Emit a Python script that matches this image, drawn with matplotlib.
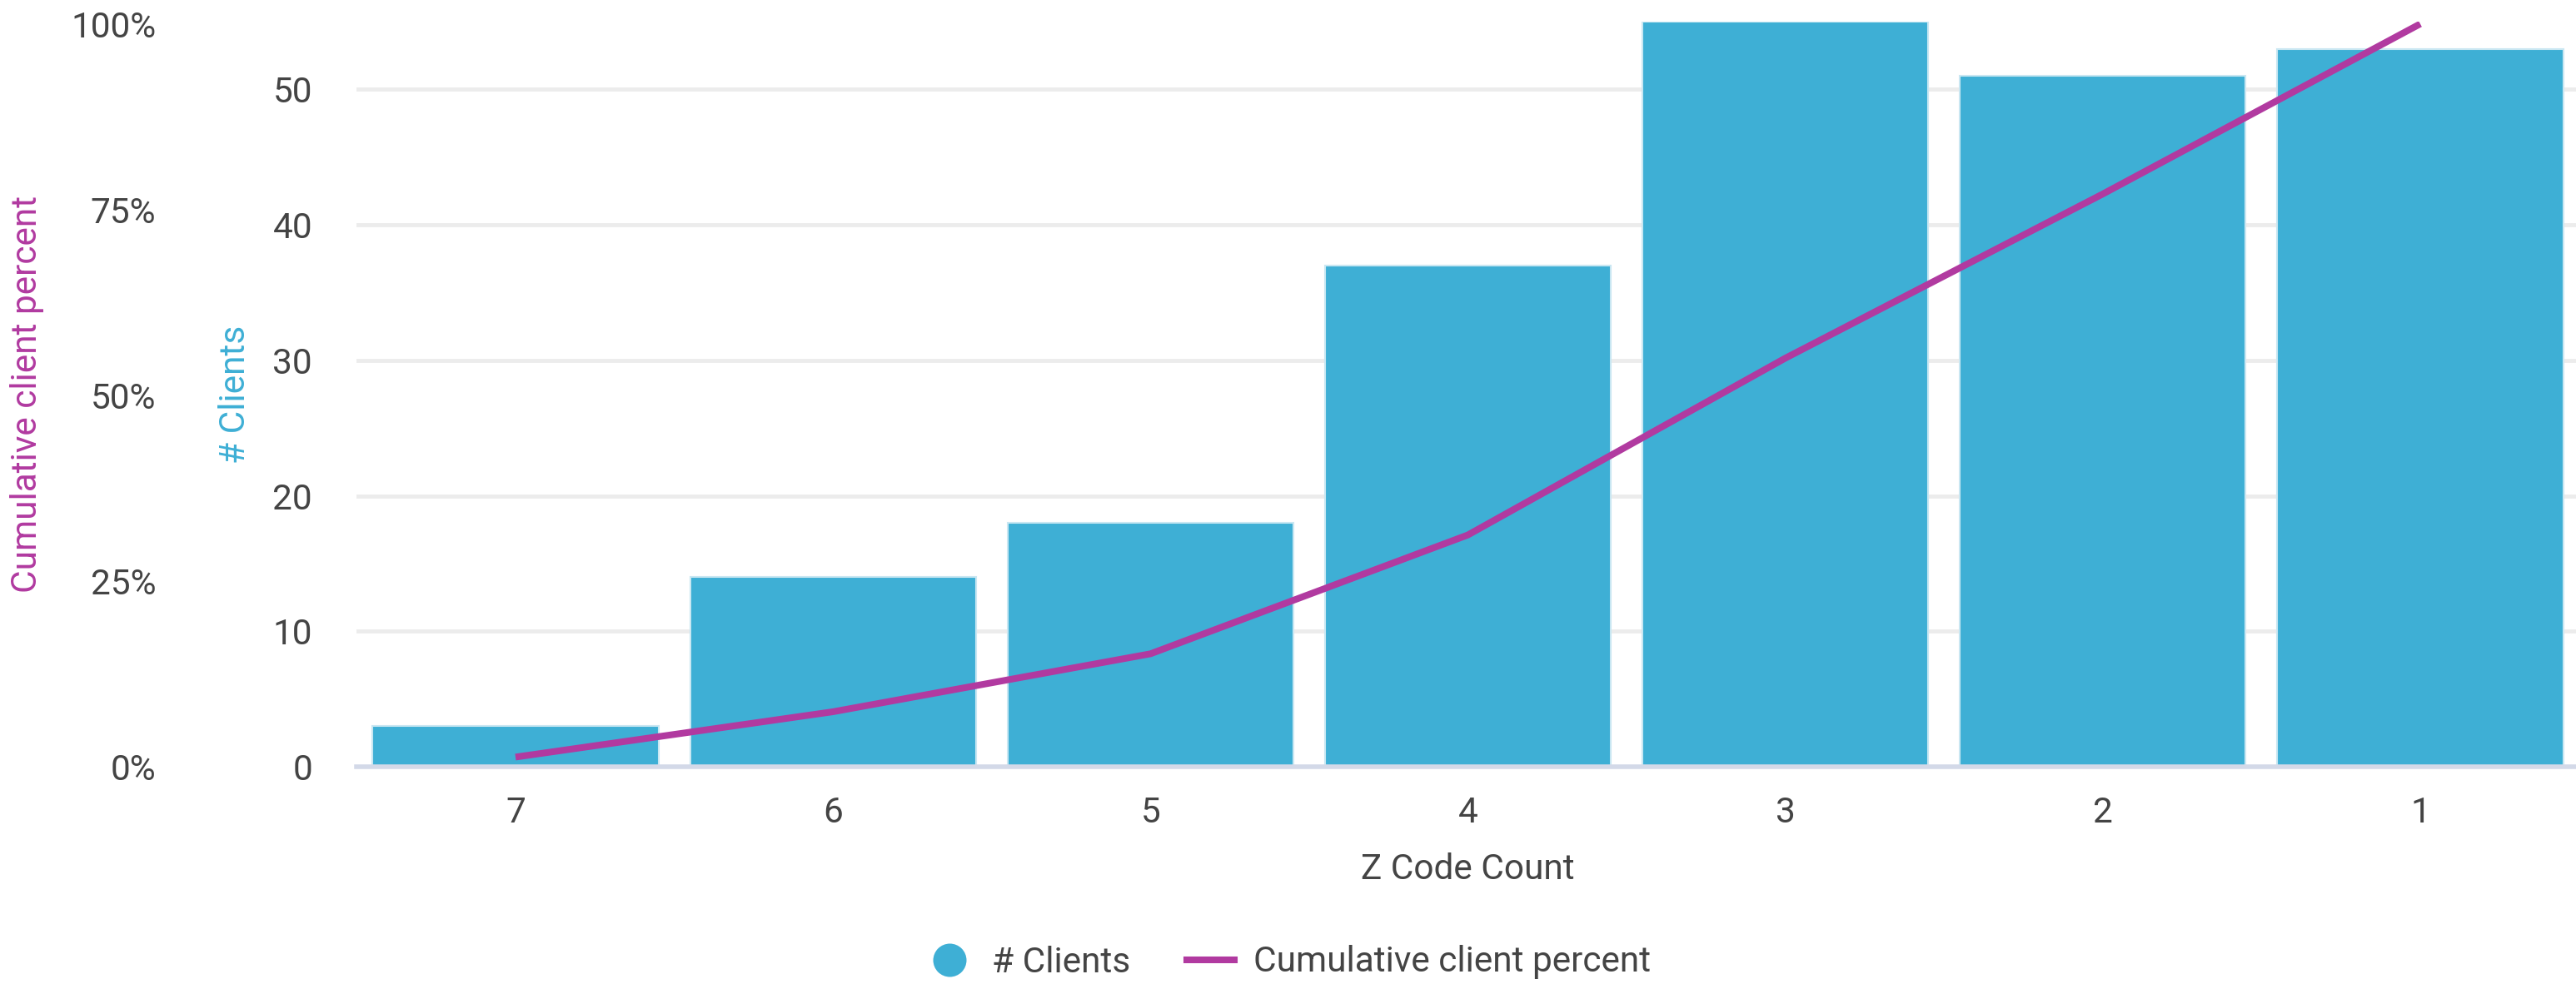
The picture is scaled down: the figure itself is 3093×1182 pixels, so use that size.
import matplotlib
matplotlib.use("Agg")
import matplotlib.pyplot as plt
from matplotlib.lines import Line2D
from matplotlib.ticker import FuncFormatter

plt.rcParams['font.family'] = ['Roboto', 'DejaVu Sans']

# --- datos ---
z_codes = ['7', '6', '5', '4', '3', '2', '1']
clients = [3, 14, 18, 37, 55, 51, 53]
cum_pct = [1.3, 7.4, 15.2, 31.2, 55.0, 77.1, 100.0]

BAR = '#3eafd5'
LINE = '#b13aa0'
TXT = '#444444'
FS = 30.5

W, H = 3093, 1182
fig = plt.figure(figsize=(W / 100, H / 100), dpi=100)

# area del grafico en pixeles
left, right, top, bottom = 428.4, 3096.6, 26, 921
ax = fig.add_axes([left / W, (H - bottom) / H, (right - left) / W, (bottom - top) / H])

x = range(len(z_codes))
ax.bar(x, clients, width=0.9, color=BAR, edgecolor='#c9e7f2', linewidth=1.5, zorder=2)
ax.set_xlim(-0.5, 6.5)
ax.set_ylim(0, 55)
ax.set_yticks([0, 10, 20, 30, 40, 50])
ax.set_xticks(list(x))
ax.set_xticklabels(z_codes)
ax.grid(axis='y', color='#ececec', linewidth=3.5, zorder=0)
ax.set_axisbelow(True)

for s in ['top', 'right', 'left']:
    ax.spines[s].set_visible(False)
ax.spines['bottom'].set_color('#d3d9e8')
ax.spines['bottom'].set_linewidth(4)
ax.spines['bottom'].set_zorder(3)

ax.tick_params(axis='y', length=0, pad=38.4, labelsize=FS, colors=TXT)
ax.tick_params(axis='x', length=0, pad=25, labelsize=FS, colors=TXT)
ax.set_xlabel('Z Code Count', fontsize=FS, color=TXT, labelpad=20)
ax.set_ylabel('# Clients', fontsize=FS, color=BAR, va='center')
ax.yaxis.set_label_coords((282 - left) / (right - left), 0.5)

# porcentaje acumulado, eje tambien a la izquierda
ax2 = ax.twinx()
ax2.plot(list(x), cum_pct, color=LINE, linewidth=5.8, solid_capstyle='butt',
         solid_joinstyle='round', zorder=4)
ax2.set_ylim(0, 100.3)
ax2.set_yticks([0, 25, 50, 75, 100])
ax2.yaxis.set_major_formatter(FuncFormatter(lambda v, p: f'{v:.0f}%'))
ax2.yaxis.tick_left()
ax2.yaxis.set_label_position('left')
ax2.tick_params(axis='y', length=0, pad=173.5, labelsize=FS, colors=TXT)
for s in ax2.spines.values():
    s.set_visible(False)
ax2.set_ylabel('Cumulative client percent', fontsize=FS, color=LINE, va='center')
ax2.yaxis.set_label_coords((32 - left) / (right - left), 0.5)

handles = [
    Line2D([], [], marker='o', linestyle='none', markersize=28.8,
           markerfacecolor=BAR, markeredgewidth=0),
    Line2D([], [], color=LINE, linewidth=5.8),
]
fig.legend(handles, ['# Clients', 'Cumulative client percent'],
           loc='center', bbox_to_anchor=(0.5, 26 / H), ncol=2, frameon=False,
           fontsize=FS, labelcolor=TXT, handlelength=1.35, handletextpad=0.54,
           columnspacing=1.58)

fig.savefig('out.png', dpi=100)
